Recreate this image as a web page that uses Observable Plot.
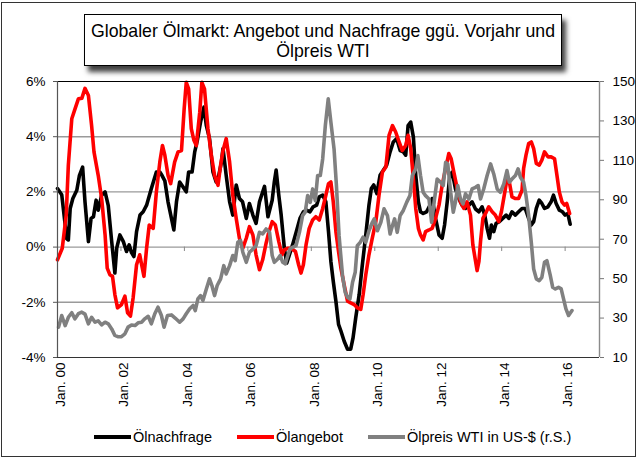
<!DOCTYPE html>
<html>
<head>
<meta charset="utf-8">
<script src="https://cdn.jsdelivr.net/npm/d3@7"></script>
<script src="https://cdn.jsdelivr.net/npm/@observablehq/plot@0.6"></script>
<style>
  html, body { margin: 0; padding: 0; background: #fff; }
  #chart { position: relative; width: 641px; height: 461px; overflow: hidden; background: #fff;
           font-family: "Liberation Sans", Arial, sans-serif; color: #000; }
  #frame { position: absolute; left: 1px; top: 2px; width: 635px; height: 455px; border: 1px solid #333; box-sizing: border-box; }
  #plot { position: absolute; left: 0; top: 0; }
  #title { position: absolute; left: 84px; top: 14px; width: 478px; height: 52px; box-sizing: border-box;
           border: 1px solid #000; background: #fff; box-shadow: 4px 6px 5px rgba(0,0,0,0.75);
           text-align: center; font-size: 17.7px; line-height: 20px; padding-top: 6px; white-space: nowrap; }
  #legend { position: absolute; left: 94px; top: 428px; height: 18px; display: flex; align-items: center; font-size: 14.5px; }
  #legend .item { display: flex; align-items: center; margin-right: 25px; }
  #legend .sw { width: 37px; height: 4px; margin-right: 2px; }
</style>
</head>
<body>
<div id="chart">
  <div id="frame"></div>
  <div id="plot"></div>
  <div id="title">Globaler Ölmarkt: Angebot und Nachfrage ggü. Vorjahr und<br>Ölpreis WTI</div>
  <div id="legend"></div>
</div>
<script>
// Months since Jan. 2000 (x) and values
const demandMonth = [0,1.6,3.5,4.1,4.8,5.8,7.3,8.3,9.5,10.4,11.7,12.7,13.6,14.6,15.4,16.7,18,19.2,20.5,21.7,22.4,23.6,24.9,26.1,27.1,28,28.9,29.9,31.2,32.4,33.7,35.5,37.4,38.7,39.5,40.6,41.8,43.1,44,45,46.2,47.5,48.7,49.6,50.9,51.9,52.9,54.1,55.4,56.3,57.5,58.8,60,61,62,62.6,63.8,65.1,66.3,67.6,68.8,70,71.4,72.6,73.9,75.1,76.4,77.4,78.3,79.6,81.2,82,82.7,83.7,84.6,85.8,86.7,87.7,88.9,90.5,91.7,93,94.2,95.5,96.7,98,99,100.3,101.5,102.5,103.4,104.3,105.3,106.3,107.2,108.4,109.7,110.9,111.8,112.8,114.1,115.3,116.6,117.8,118.7,119.6,120.8,122,123.3,124.5,125.8,127,128.3,129.6,130.8,131.7,132.6,133.6,134.6,135.5,136.5,137.3,138.3,139.6,140.9,141.7,143,144.3,145.5,146.4,147.4,148.4,149.3,150.5,151.8,153,154.3,155.6,156.8,158.1,159.4,160.6,161.6,162.5,163.4,164.1,165,165.9,167.1,168.4,169.7,170.7,171.9,173.2,174.4,175.7,176.9,178.2,179.2,180.1,181.1,182.2,183.2,184.2,185.5,186.7,187.6,188.6,189.8,191,192,193,193.9];
const demandPct = [2.12,1.9,0.3,0.26,1.4,1.76,2.06,2.6,2.9,1.64,0.2,1.04,1.1,1.7,1.34,1.88,2.0,1.5,0.2,-0.94,-0.04,0.44,0.2,-0.16,0.08,-0.2,-0.34,0.56,1.16,1.28,1.52,2.12,2.72,2.72,2.6,2.4,1.64,1.04,0.62,1.64,2.36,2.18,2.0,2.72,2.72,3.45,3.87,4.53,5.07,4.4,3.93,2.72,2.36,2.6,3.08,3.57,2.6,1.64,1.16,2.25,1.76,1.64,1.04,1.58,1.16,0.86,1.64,1.94,2.2,1.1,1.7,2.36,2.79,1.88,1.16,-0.04,-0.58,-0.28,0.08,0.62,1.04,1.28,1.34,1.28,1.46,1.52,1.82,1.88,1.64,0.56,-0.52,-1.24,-1.96,-2.8,-3.04,-3.4,-3.7,-3.7,-3.28,-2.56,-1.72,-0.64,0.44,1.52,2.12,2.25,1.94,2.6,2.79,2.97,3.45,3.81,3.93,3.5,3.45,3.33,4.4,4.53,3.99,2.6,1.64,1.28,1.22,1.28,1.52,1.76,1.04,0.44,0.32,0.8,1.64,2.6,2.72,2.12,1.76,1.52,1.4,1.52,1.64,1.38,1.28,1.46,1.16,0.68,0.32,0.8,0.56,0.86,0.92,1.04,1.16,1.04,1.28,1.16,1.28,1.4,1.4,1.04,0.8,0.92,1.4,1.7,1.58,1.4,1.46,1.64,1.88,1.58,1.34,1.28,1.16,1.22,0.83];

const supplyMonth = [0,1.8,3.3,4.1,5.4,6.6,7.9,9.2,10.4,11.7,12.9,13.8,15.4,16.7,18,18.8,19.8,20.8,21.7,22.7,24.2,25.5,26.5,27.6,28.6,29.9,31.1,32.7,33.7,34.7,36.2,37.4,38.7,39.7,40.6,41.8,42.8,44.3,45.6,46.9,47.9,48.7,49.6,50.6,51.6,52.5,53.8,54.6,55.6,56.9,58.2,59.4,60.7,61.7,62.6,63.8,65.1,66.3,67.6,68.8,70.1,71.4,72.6,73.9,75.1,76.4,77.6,78.9,79.8,81.2,82.4,83.7,84.9,85.8,87.1,88.3,90,91.2,92.1,93,94,95.2,96.5,97.7,99,100.3,101.5,102.5,103.4,104.3,105.3,106.3,107.2,108.4,109.7,110.9,112.2,113.4,114.7,115.6,116.6,117.8,119,120.4,121.6,122.9,124.2,125.4,126.7,127.9,129.2,130.4,131.7,132.6,133.6,134.6,135.5,136.5,137.3,138.3,139.2,140.5,141.7,143,144.3,145.5,146.8,148,148.9,149.9,151.2,152.4,153.7,154.9,156.2,157.1,158.7,159.4,160,160.9,161.9,163.1,164.4,165.6,166.9,167.9,169.2,170,170.9,171.9,173.2,174.4,175.7,176.3,177.2,178.2,179.2,180.1,181.1,182.2,183.2,184.2,185.5,186.7,188,188.9,189.8,190.8,191.8,192.6,193.7];
const supplyPct = [-0.46,-0.04,1.16,2.97,4.65,5.0,5.37,5.39,5.75,5.49,4.4,3.45,2.6,1.76,0.44,-0.76,-1.0,-1.06,-1.72,-2.2,-2.08,-1.78,-2.38,-2.5,-1.84,-0.64,-0.28,-1.06,-0.04,0.8,0.68,2.0,3.08,3.68,3.33,2.6,2.3,3.08,3.45,3.5,5.0,5.97,5.73,4.29,3.87,3.68,4.89,5.97,5.73,4.29,3.33,2.6,2.24,2.97,3.5,3.93,3.08,1.88,1.04,0.32,-0.04,0.32,0.74,0.44,-0.28,-0.82,-0.46,0.14,0.5,0.92,0.8,0.2,-0.28,-0.1,-0.04,-0.04,-0.16,-0.64,-0.94,-0.64,0.08,0.68,0.98,1.1,0.98,1.4,1.88,2.3,2.36,1.64,0.56,-0.16,-0.76,-1.36,-1.96,-2.02,-2.08,-2.2,-2.26,-1.72,-1.0,-0.28,0.3,0.92,1.88,2.72,2.9,4.05,4.4,4.17,3.81,3.5,3.68,4.05,3.57,2.48,1.4,0.68,0.44,0.26,0.56,0.62,0.68,1.04,1.52,2.25,2.85,3.39,3.2,2.72,2.12,1.64,1.4,1.64,1.16,0.08,-0.85,-0.52,0.2,1.04,1.22,1.46,1.28,1.16,0.92,1.28,2.0,2.48,2.36,1.82,1.76,1.76,2.06,2.85,3.33,3.75,3.81,3.57,3.03,2.97,3.15,3.45,3.27,3.27,3.2,2.6,2.0,1.64,1.52,1.58,1.22];

const priceMonth = [0.4,1.6,2.9,4.1,5.4,6.6,7.9,9.2,10.4,11.7,12.9,14.2,15.4,16.7,18,19.2,20.5,21.7,23,24.2,25.5,26.7,28,29.3,30.5,31.8,33,34.3,35.5,36.8,38,39.3,40.3,41.6,43.1,44.6,46.2,47.5,48.7,50,51.3,52.1,53.1,54.1,55,56.3,57.5,58.4,59.4,60.4,61.7,62.9,63.8,65.1,66.3,67.2,68.2,69.2,70.1,71.4,72.6,73.9,75.1,76.4,77.6,78.9,80.2,81.2,82,83.3,84.2,85.2,86.2,87.1,87.9,88.9,90.2,91.5,92.7,93.7,94.6,95.6,96.5,97.5,98.4,99.4,100.3,101.3,102.4,103.4,104.6,105.5,106.5,107.8,108.8,109.7,110.6,111.6,112.6,113.4,114.5,115.6,116.6,117.8,119.1,119.8,121,122.3,123.5,124.8,125.8,126.7,127.5,128.5,129.6,130.8,132.1,133.3,134.2,135.5,136.3,137.3,138.3,139.2,140.5,141.5,142.6,143.6,144.9,145.9,146.8,147.6,148.7,149.7,150.5,151.4,152.4,153.4,154.3,155.6,156.8,158.1,159.1,160,161.2,162.5,163.8,165,166.3,167.5,168.8,170,170.9,171.9,173.2,174.2,175.1,176.3,177.2,178.2,179.2,180.1,181.1,182.2,183.2,184.2,185.1,186.4,187.3,188.3,189.5,190.5,191.4,192.3,193.3,194.6];
const priceUsd = [25.4,31.3,26.2,30.4,32.7,29.6,32.2,33,32,27.1,30.4,27.9,28.6,26.5,27.9,27.1,24.5,21.2,20.5,20.6,22,25.4,26.5,26.2,27.6,27.9,29.6,30.9,27.1,32.2,35.5,31.3,25.4,31.3,31.6,29.9,27.9,29.6,32.2,34.7,36.4,33.8,39.7,41.4,38.9,44.8,49.9,46.5,41.4,46.5,49.9,56.6,52.4,56.6,61.7,59.1,68.4,69.3,63.4,58.3,63.4,65,66.7,73.5,72.7,75.2,73.5,61.7,58.3,60,61.7,58.3,57.5,61.7,65,65.9,66.7,73.5,82,83.7,92.1,88.7,95.5,89.6,102.3,102.3,110.7,127.6,141.2,129.4,115.8,97.2,71.8,51.5,43.1,40.5,39.7,48.2,53.2,66.7,68.4,71,68.4,74.3,78.6,80.3,74.3,78.6,85.4,82,72.7,76.9,80.3,73.5,82,84.6,88.8,92.1,102.3,105.7,112.4,102.3,93.8,92.1,90.4,78.6,90.4,100.5,98.9,97.2,109,108.2,93.8,83.7,88.8,97.2,90.4,87.9,93,90.4,95.5,96.3,97.2,90.4,95.5,102.3,108.2,103.1,95.5,93.8,98,104.8,98.9,100.5,102.3,105.7,101.4,98.9,92.1,82,68.4,54.9,49.9,49,50.7,58.3,59.1,51.5,45.6,44.8,45.6,44.8,39.7,34.7,31.3,33.8];

const xTickMonths = [0, 24, 48, 72, 96, 120, 144, 168, 192];
const xTickLabels = ["Jan. 00", "Jan. 02", "Jan. 04", "Jan. 06", "Jan. 08", "Jan. 10", "Jan. 12", "Jan. 14", "Jan. 16"];
const pctTicks = [-4, -2, 0, 2, 4, 6];
const priceTicks = [10, 30, 50, 70, 90, 110, 130, 150];

const seriesNames = ["Ölnachfrage", "Ölangebot", "Ölpreis WTI in US-$ (r.S.)"];
const seriesColors = ["#000000", "#ff0000", "#808080"];

// secondary (price) axis mapped onto the percent scale: 10..150 -> -4..6
const priceToPct = p => -4 + (p - 10) / 14;
const pctToPrice = v => Math.round(10 + (v + 4) * 14);

const demand = demandMonth.map((m, i) => ({m, v: demandPct[i]}));
const supply = supplyMonth.map((m, i) => ({m, v: supplyPct[i]}));
const price = priceMonth.map((m, i) => ({m, v: priceToPct(priceUsd[i])}));

const lineOpts = {x: "m", y: "v", strokeWidth: 3.6, strokeLinejoin: "round", strokeLinecap: "round"};

const chart = Plot.plot({
  width: 641,
  height: 461,
  marginLeft: 57,
  marginRight: 42,
  marginTop: 81,
  marginBottom: 104,
  x: {domain: [0, 205]},
  y: {domain: [-4, 6]},
  style: {fontFamily: "'Liberation Sans', Arial, sans-serif", fontSize: "13px", color: "#000", background: "transparent"},
  marks: [
    Plot.ruleY([-2, 0, 2, 4], {stroke: "#9a9a9a", strokeWidth: 1.4}),
    Plot.ruleX(xTickMonths.slice(1), {y1: 0, y2: -0.16, stroke: "#8a8a8a", strokeWidth: 1}),
    Plot.line(demand, {...lineOpts, stroke: seriesColors[0]}),
    Plot.line(supply, {...lineOpts, stroke: seriesColors[1]}),
    Plot.line(price, {...lineOpts, stroke: seriesColors[2]}),
    Plot.ruleY([6], {stroke: "#000", strokeWidth: 1.2}),
    Plot.ruleY([-4], {stroke: "#333", strokeWidth: 1.2}),
    Plot.ruleX([0], {stroke: "#555", strokeWidth: 1.2}),
    Plot.ruleX([205], {stroke: "#8a8a8a", strokeWidth: 1.4}),
    Plot.axisY(pctTicks, {anchor: "left", tickFormat: d => d + "%", tickSize: 4, tickPadding: 8, stroke: "#555", fontSize: 13.5, label: null}),
    Plot.axisY(priceTicks.map(priceToPct), {anchor: "right", tickFormat: d => String(pctToPrice(d)), tickSize: 4, tickPadding: 9, stroke: "#777", fontSize: 13.5, label: null}),
    Plot.axisX(xTickMonths, {anchor: "bottom", tickFormat: d => xTickLabels[xTickMonths.indexOf(d)], tickRotate: -90, tickSize: 0, tickPadding: 5, dx: 3, fontSize: 13.5, label: null})
  ]
});
document.getElementById("plot").appendChild(chart);

const legend = d3.select("#legend");
seriesNames.forEach((name, i) => {
  const item = legend.append("div").attr("class", "item");
  item.append("span").attr("class", "sw").style("background", seriesColors[i]);
  item.append("span").text(name);
});
</script>
</body>
</html>
